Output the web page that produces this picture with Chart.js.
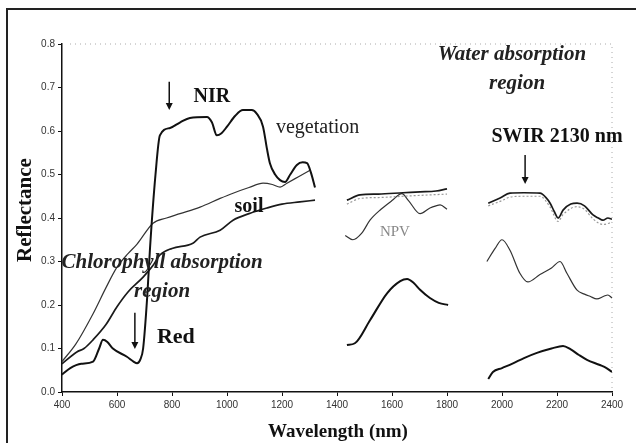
<!DOCTYPE html>
<html>
<head>
<meta charset="utf-8">
<script src="https://cdn.jsdelivr.net/npm/chart.js@4/dist/chart.umd.min.js"></script>
<style>
  body { margin: 0; background: #fff; }
  #wrap { width: 636px; height: 443px; position: relative; }
</style>
</head>
<body>
<div id="wrap"><canvas id="specCanvas" width="636" height="443"></canvas></div>
<script>
"use strict"

// x ticks (nm) and y ticks (reflectance)
const xTicks = [400, 600, 800, 1000, 1200, 1400, 1600, 1800, 2000, 2200, 2400];
const yTicks = [0.0, 0.1, 0.2, 0.3, 0.4, 0.5, 0.6, 0.7, 0.8];

// vegetation (null = water absorption gap)
const vegWl = [400, 430, 470, 513, 535, 549, 565, 585, 636, 660, 673, 685, 695, 710, 720, 740, 756, 793, 830, 865, 927, 945, 963, 980, 1000, 1030, 1058, 1090, 1108, 1131, 1145, 1156, 1175, 1193, 1211, 1230, 1254, 1275, 1291, 1305, 1320,
  1380,
  1436, 1465, 1520, 1582, 1630, 1655, 1680, 1702, 1738, 1770, 1804,
  1880,
  1950, 1967, 2000, 2040, 2080, 2127, 2180, 2222, 2250, 2280, 2309, 2356, 2380, 2400];
const vegR = [0.040, 0.055, 0.065, 0.070, 0.100, 0.120, 0.115, 0.100, 0.081, 0.070, 0.066, 0.075, 0.100, 0.220, 0.330, 0.500, 0.590, 0.607, 0.620, 0.630, 0.632, 0.620, 0.590, 0.595, 0.610, 0.635, 0.648, 0.648, 0.640, 0.610, 0.560, 0.526, 0.500, 0.487, 0.483, 0.500, 0.522, 0.528, 0.526, 0.505, 0.470,
  null,
  0.108, 0.112, 0.165, 0.227, 0.255, 0.260, 0.250, 0.235, 0.216, 0.205, 0.200,
  null,
  0.030, 0.046, 0.055, 0.066, 0.078, 0.090, 0.100, 0.106, 0.098, 0.085, 0.074, 0.062, 0.055, 0.046];

// soil
const soilWl = [400, 454, 480, 513, 560, 600, 640, 695, 730, 756, 800, 876, 902, 975, 1022, 1080, 1145, 1200, 1265, 1320,
  1380,
  1436, 1484, 1550, 1640, 1702, 1760, 1800,
  1880,
  1950, 1993, 2029, 2080, 2138, 2160, 2175, 2190, 2204, 2222, 2250, 2273, 2300, 2331, 2350, 2367, 2385, 2400];
const soilR = [0.065, 0.092, 0.100, 0.120, 0.155, 0.196, 0.230, 0.264, 0.290, 0.315, 0.330, 0.342, 0.356, 0.372, 0.395, 0.410, 0.423, 0.432, 0.437, 0.441,
  null,
  0.441, 0.453, 0.455, 0.458, 0.460, 0.462, 0.467,
  null,
  0.434, 0.446, 0.457, 0.458, 0.457, 0.447, 0.434, 0.415, 0.400, 0.418, 0.432, 0.434, 0.428, 0.407, 0.400, 0.395, 0.400, 0.397];

// second soil spectrum (dotted, SWIR only)
const soil2Wl = [1436, 1484, 1550, 1640, 1702, 1800,
  1880,
  1950, 2000, 2029, 2080, 2138, 2175, 2204, 2222, 2273, 2300, 2331, 2367, 2400];
const soil2R = [0.432, 0.445, 0.447, 0.450, 0.452, 0.455,
  null,
  0.428, 0.440, 0.448, 0.450, 0.450, 0.425, 0.392, 0.408, 0.426, 0.420, 0.398, 0.385, 0.390];

// NPV
const npvWl = [400, 450, 513, 560, 600, 640, 673, 731, 780, 829, 902, 975, 1022, 1080, 1131, 1165, 1193, 1218, 1260, 1302,
  1380,
  1430, 1458, 1490, 1520, 1560, 1600, 1636, 1660, 1702, 1738, 1760, 1775, 1800,
  1880,
  1945, 1975, 2000, 2029, 2065, 2094, 2138, 2180, 2211, 2236, 2273, 2300, 2320, 2345, 2370, 2385, 2400];
const npvR = [0.070, 0.110, 0.180, 0.240, 0.287, 0.318, 0.340, 0.388, 0.400, 0.410, 0.425, 0.445, 0.457, 0.470, 0.480, 0.477, 0.471, 0.480, 0.495, 0.510,
  null,
  0.360, 0.350, 0.365, 0.395, 0.420, 0.440, 0.456, 0.440, 0.410, 0.423, 0.428, 0.430, 0.420,
  null,
  0.300, 0.330, 0.350, 0.326, 0.273, 0.253, 0.270, 0.285, 0.300, 0.273, 0.234, 0.225, 0.220, 0.214, 0.220, 0.223, 0.216];

// text labels in data coordinates: [text, wl, r, font, align, colour]
const notes = [
  ["NIR", 945, 0.678, "bold 20px 'Liberation Serif'", "center", "#111"],
  ["vegetation", 1178, 0.607, "20px 'Liberation Serif'", "left", "#222"],
  ["soil", 1080, 0.425, "bold 20px 'Liberation Serif'", "center", "#111"],
  ["Chlorophyll absorption", 764, 0.297, "italic bold 21px 'Liberation Serif'", "center", "#222"],
  ["region", 764, 0.232, "italic bold 21px 'Liberation Serif'", "center", "#222"],
  ["Red", 745, 0.126, "bold 22px 'Liberation Serif'", "left", "#111"],
  ["Water absorption", 2036, 0.775, "italic bold 21px 'Liberation Serif'", "center", "#222"],
  ["region", 2055, 0.710, "italic bold 21px 'Liberation Serif'", "center", "#222"],
  ["SWIR 2130 nm", 2200, 0.586, "bold 20px 'Liberation Serif'", "center", "#111"],
  ["NPV", 1556, 0.368, "15px 'Liberation Serif'", "left", "#888"]
];
// arrows: [wl, rFrom, rTo]
const arrows = [
  [790, 0.713, 0.648],
  [665, 0.182, 0.099],
  [2084, 0.545, 0.478]
];

function toPoints(wl, r) {
  return wl.map(function (w, i) { return { x: w, y: r[i] }; });
}

const notesPlugin = {
  id: 'notes',
  beforeDatasetsDraw: function (chart) {
    const ctx = chart.ctx;
    const a = chart.chartArea;
    ctx.save();
    // outer frame (top and left visible)
    ctx.strokeStyle = '#222';
    ctx.lineWidth = 2;
    ctx.beginPath();
    ctx.moveTo(7, 445);
    ctx.lineTo(7, 9);
    ctx.lineTo(640, 9);
    ctx.stroke();
    // faint dotted frame of the plot area
    ctx.strokeStyle = '#aaa';
    ctx.lineWidth = 1;
    ctx.setLineDash([1, 4]);
    ctx.beginPath();
    ctx.moveTo(a.left + 8, a.top);
    ctx.lineTo(a.right, a.top);
    ctx.lineTo(a.right, a.bottom);
    ctx.stroke();
    ctx.restore();
  },
  afterDraw: function (chart) {
    const ctx = chart.ctx;
    const xs = chart.scales.x;
    const ys = chart.scales.y;
    ctx.save();
    ctx.textBaseline = 'middle';
    notes.forEach(function (n) {
      ctx.font = n[3];
      ctx.textAlign = n[4];
      ctx.fillStyle = n[5];
      ctx.fillText(n[0], xs.getPixelForValue(n[1]), ys.getPixelForValue(n[2]));
    });

    ctx.strokeStyle = '#111';
    ctx.fillStyle = '#111';
    ctx.lineWidth = 1.5;
    arrows.forEach(function (ar) {
      const x = xs.getPixelForValue(ar[0]);
      const y1 = ys.getPixelForValue(ar[1]);
      const y2 = ys.getPixelForValue(ar[2]);
      ctx.beginPath();
      ctx.moveTo(x, y1);
      ctx.lineTo(x, y2 - 6);
      ctx.stroke();
      ctx.beginPath();
      ctx.moveTo(x - 3.5, y2 - 7);
      ctx.lineTo(x + 3.5, y2 - 7);
      ctx.lineTo(x, y2);
      ctx.closePath();
      ctx.fill();
    });

    // axis titles
    ctx.fillStyle = '#111';
    ctx.font = "bold 19px 'Liberation Serif'";
    ctx.textAlign = 'center';
    ctx.fillText("Wavelength (nm)", (xs.left + xs.right) / 2 + 1, 432);
    ctx.translate(26, 210);
    ctx.rotate(-Math.PI / 2);
    ctx.font = "bold 21px 'Liberation Serif'";
    ctx.fillText("Reflectance", 0, 0);
    ctx.restore();
  }
};

const lineBase = { fill: false, pointRadius: 0, spanGaps: false, cubicInterpolationMode: 'monotone' };

const exLines = [
  Object.assign({ label: 'vegetation', data: toPoints(vegWl, vegR), borderColor: '#111', borderWidth: 2 }, lineBase),
  Object.assign({ label: 'soil', data: toPoints(soilWl, soilR), borderColor: '#1a1a1a', borderWidth: 1.7 }, lineBase),
  Object.assign({ label: 'soil 2', data: toPoints(soil2Wl, soil2R), borderColor: '#999', borderWidth: 1.2, borderDash: [2, 2] }, lineBase),
  Object.assign({ label: 'NPV', data: toPoints(npvWl, npvR), borderColor: '#333', borderWidth: 1.2 }, lineBase)
];

const tickFont = { family: "'Liberation Sans'", size: 10 };

const config = {
  type: 'line',
  data: { datasets: exLines },
  options: {
    responsive: false,
    animation: false,
    devicePixelRatio: 1,
    layout: { padding: { top: 44, right: 24, left: 12, bottom: 0 } },
    plugins: { legend: { display: false }, tooltip: { enabled: false } },
    scales: {
      x: {
        type: 'linear',
        min: 400,
        max: 2400,
        afterBuildTicks: function (scale) {
          scale.ticks = xTicks.map(function (v) { return { value: v }; });
        },
        afterFit: function (scale) { scale.height = 51; },
        ticks: {
          color: '#333', font: tickFont, padding: 3, maxRotation: 0, autoSkip: false,
          callback: function (v) { return String(v); }
        },
        grid: { drawOnChartArea: false, drawTicks: true, tickLength: 4, color: '#111' },
        border: { color: '#111', width: 1.5 }
      },
      y: {
        min: 0,
        max: 0.8,
        afterBuildTicks: function (scale) {
          scale.ticks = yTicks.map(function (v) { return { value: v }; });
        },
        afterFit: function (scale) { scale.width = 50; },
        ticks: {
          color: '#333', font: tickFont, padding: 3,
          callback: function (v) { return Number(v).toFixed(1); }
        },
        grid: { drawOnChartArea: false, drawTicks: true, tickLength: 4, color: '#111' },
        border: { color: '#111', width: 1.5 }
      }
    }
  },
  plugins: [notesPlugin]
};

const specChart = new Chart(document.getElementById('specCanvas'), config);
</script>
</body>
</html>
